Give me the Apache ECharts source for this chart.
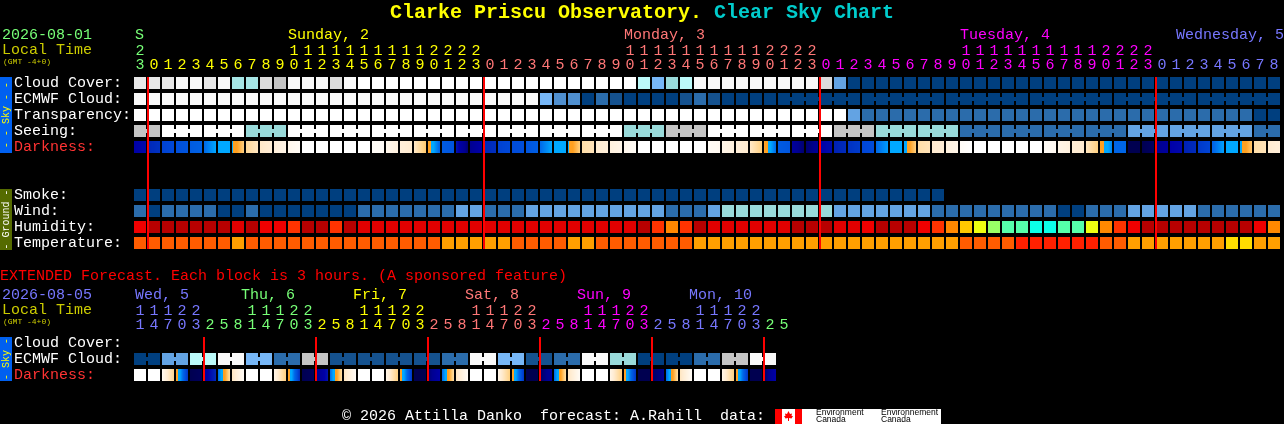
<!DOCTYPE html>
<html><head><meta charset="utf-8">
<style>html,body{margin:0;padding:0;background:#000;overflow:hidden}#c{width:1284px;height:424px}</style>
<script src="https://cdn.jsdelivr.net/npm/echarts@6/dist/echarts.min.js"></script>
</head><body><div id="c"></div>
<script>
// ---------- data ----------
const rowNames = ['Cloud Cover:','ECMWF Cloud:','Transparency:','Seeing:','Darkness:','','','Smoke:','Wind:','Humidity:','Temperature:'];
const extRowNames = ['Cloud Cover:','ECMWF Cloud:','Darkness:'];
const hours = [23,
 0,1,2,3,4,5,6,7,8,9,10,11,12,13,14,15,16,17,18,19,20,21,22,23,
 0,1,2,3,4,5,6,7,8,9,10,11,12,13,14,15,16,17,18,19,20,21,22,23,
 0,1,2,3,4,5,6,7,8,9,10,11,12,13,14,15,16,17,18,19,20,21,22,23,
 0,1,2,3,4,5,6,7,8];
const extHours = [11,14,17,20,23,
 2,5,8,11,14,17,20,23, 2,5,8,11,14,17,20,23, 2,5,8,11,14,17,20,23,
 2,5,8,11,14,17,20,23, 2,5,8,11,14,17,20,23, 2,5];
const dayStarts = [0,1,25,49,73];
const extDayStarts = [0,5,13,21,29,37,45];
const dayTitles = [[0,'S'],[11,'Sunday, 2'],[35,'Monday, 3'],[59,'Tuesday, 4'],[81,'Wednesday, 5']];
const extDayTitles = [[0,'Wed, 5'],[8,'Thu, 6'],[16,'Fri, 7'],[24,'Sat, 8'],[32,'Sun, 9'],[40,'Mon, 10']];

const cloudCover = [2,2,2,1,1,2,1,6,6,3,4,1,1,1,3,1,0,0,0,0,0,0,0,0,0,0,0,0,0,0,0,0,0,0,0,0,5,8,7,5,1,1,1,1,1,1,1,1,1,3,9,
 13,13,13,13,13,13,13,13,13,13,13,13,13,13,13,13,13,13,13,13,13,13,13,13,13,13,13,13,13,13,13];
const ecmwfCloud = [1,1,1,1,1,1,1,1,1,1,1,1,1,1,1,1,1,1,1,1,1,1,1,1,1,1,1,1,1,8,10,10,13,11,12,13,13,13,13,12,11,12,
 13,13,13,13,13,13,13,13,13,13,13,13,13,13,13,13,13,13,13,13,13,13,13,13,13,13,13,13,13,13,13,13,13,13,13,13,13,13,13,13];
const transparency = [0,0,0,0,0,0,0,0,0,0,0,0,0,0,0,0,0,0,0,0,0,0,0,0,0,0,0,0,0,0,0,0,0,0,0,0,0,0,0,0,0,0,0,0,0,0,0,0,0,0,0,9,
 11,11,11,11,11,11,11,11,11,11,11,11,11,11,11,11,11,11,11,11,11,11,11,11,11,11,11,11,13,13];
const seeing = [4,4,0,0,0,0,0,0,7,7,7,0,0,0,0,0,0,0,0,0,0,0,0,0,0,0,0,0,0,0,0,0,0,0,0,7,7,7,4,4,4,0,0,0,0,0,0,0,0,0,4,4,4,
 7,7,7,7,7,7,11,11,11,11,11,11,11,11,11,11,11,11,9,9,9,9,9,9,9,9,9,11,11];
const smoke = [13,13,13,13,13,13,13,13,13,13,13,13,13,13,13,13,13,13,13,13,13,13,13,13,13,13,13,13,13,13,13,13,13,13,13,13,13,13,13,13,13,13,13,13,13,13,13,13,13,13,13,13,13,13,13,13,13,13];
const wind = [11,13,11,11,11,11,13,13,11,13,13,13,13,13,13,13,11,11,11,11,11,11,11,9,9,11,11,11,9,9,9,9,9,9,9,9,9,9,11,11,11,9,
 7,7,7,7,7,7,7,7,9,9,9,9,9,9,9,11,11,11,11,11,11,11,11,11,13,13,11,11,11,9,9,9,9,9,11,11,11,11,11,11];
const humidity = [2,0,0,0,0,0,0,1,0,2,2,3,0,0,3,0,1,1,1,1,1,1,1,1,1,1,1,1,1,1,1,1,1,1,1,1,0,3,4,3,0,1,1,1,1,1,1,0,0,0,1,1,
 2,0,0,0,2,3,4,5,6,7,8,8,9,9,8,8,6,4,3,2,0,0,0,0,0,0,0,0,2,4];
const temperature = [1,1,1,1,1,1,1,2,1,1,1,1,1,1,1,1,1,1,1,1,1,1,2,2,2,2,2,1,1,1,1,2,2,1,1,1,1,1,1,1,2,2,2,2,2,2,2,2,2,2,2,2,
 2,2,2,2,2,2,2,1,1,1,1,0,0,0,0,0,0,1,1,2,2,2,2,2,2,2,3,3,2,2];
const darkStart = [2,3,3.8,4.2,4.6,5,6,6.3,8.3,8.9,9.2,9.6,10,10,10,10,10,9.8,9.6,9.2,8.9,7,4.6,2.5,1,3,3.8,4.1,4.4,5,6,6.3,8.5,9,9.3,9.6,
 10,10,10,10,10,9.8,9.5,9.2,8.9,7.2,4.6,1.5,0.5,2,2.8,3.3,3.9,5,6,6.1,8.5,9,9.3,9.8,10,10,10,10,10,9.8,9.5,9.1,8.8,7.1,4.9,0,0,1,2,2.8,3.5,4.8,6,6.2,8.5,9];
const darkEnd = [2.2,3.3,4,4.4,4.8,6,6,8,8.8,9.1,9.5,9.8,10,10,10,10,10,9.8,9.3,9,7.8,4.8,4.4,0.5,2,3.2,4,4.2,4.7,6,6,8,8.7,9.2,9.5,9.8,
 10,10,10,10,10,9.7,9.3,9,8,5,4.4,0.5,1.2,2.3,3.1,3.6,4.1,5.8,6,8,8.7,9.1,9.5,10,10,10,10,10,10,9.7,9.3,9,8,5.4,4.9,0,0.3,1.5,2.2,3.1,3.9,5.9,6,7.8,8.7,9.2];

const extEcmwf = [13,13,9,9,5,5,1,1,8,8,11,11,4,4,12,12,12,12,12,12,12,12,11,11,1,1,8,8,12,12,11,11,1,1,7,7,13,13,13,13,11,11,4,4,1,1];
const extDarkStart = [10,10,9.7,7.2,0,1.5,5,8.8,10,10,9.5,7.2,0,0.8,5,8.8,10,10,9.5,7.2,0,0.5,5,8.8,10,10,9.5,7.2,0,0.3,5,8.8,10,10,9.5,7.2,0,0.3,5,8.8,10,10,9.5,7.2,0,0.3];
const extDarkEnd = [10,10,8.2,3.4,0.2,3,8.5,9.8,10,10,8,3.2,0.2,2.5,8.5,9.8,10,10,8,3.4,0,2,8.5,9.8,10,10,8,3.4,0,1.5,8.5,9.8,10,10,8,3.4,0,1,8.5,9.8,10,10,8,3.4,0,2];

// ---------- styles ----------
const skyColors = ['#FFFFFF','#F9F9F9','#E8E8E8','#DCDCDC','#C4C4C4','#BBFAFA','#A6E6E6','#99DADA','#77B7F7','#63A3E3','#4F8FCF','#2B6CAB','#15528F','#003F7F'];
const humColors = ['#B80000','#E20000','#F00000','#FF3300','#FF8800','#FFC800','#EEFF11','#99FF66','#55FFAA','#0CFFE8'];
const tmpColors = ['#FF2000','#FF5C00','#FF9F00','#FFDD00'];
const dayColors = ['#77FF77','#FFFF00','#FF7777','#FF00FF','#7777FF'];
const extDayColors = ['#7777FF','#77FF77','#FFFF00','#FF7777','#FF00FF','#7777FF','#77FF77'];
const darkScale = [[0,[0,0,80]],[1,[0,0,144]],[2,[0,0,168]],[3,[0,40,184]],[4,[0,72,216]],[5,[0,104,232]],[6,[0,168,255]]];
const dayScale = [[6.5,[255,160,32]],[7,[255,160,32]],[8,[255,208,128]],[9,[255,235,208]],[10,[255,255,255]]];
const MONO = '"Liberation Mono","DejaVu Sans Mono",monospace';

function darkColor(v){
  const s = v < 6.5 ? darkScale : dayScale;
  if (v <= s[0][0]) return 'rgb('+s[0][1]+')';
  for (let i=1;i<s.length;i++){
    if (v <= s[i][0]){
      const t=(v-s[i-1][0])/(s[i][0]-s[i-1][0]);
      return 'rgb('+s[i][1].map((c,k)=>Math.round(s[i-1][1][k]+(c-s[i-1][1][k])*t))+')';
    }
  }
  return 'rgb('+s[s.length-1][1]+')';
}
function darkGradient(a,b){
  const stops=[]; const n=12;
  for(let i=0;i<n;i++){
    const c=darkColor(a+(b-a)*(i+0.5)/n);
    stops.push({offset:i/n,color:c},{offset:(i+1)/n,color:c});
  }
  return new echarts.graphic.LinearGradient(0,0,1,0,stops);
}
function dayColor(c,starts,colors){ let k=0; starts.forEach((s,i)=>{ if(c>=s)k=i; }); return colors[k]; }

// rows: [row index, values, palette, joins next cell?]
const upperRows = [
 [0,cloudCover,skyColors,()=>false],
 [1,ecmwfCloud,skyColors,c=>c>=46&&(c-46)%6!==5],
 [2,transparency,skyColors,()=>false],
 [3,seeing,skyColors,c=>(c+1)%3!==2],
 [7,smoke,skyColors,()=>false],
 [8,wind,skyColors,()=>false],
 [9,humidity,humColors,()=>false],
 [10,temperature,tmpColors,()=>false]];
const lowerRows = [[1,extEcmwf,skyColors,c=>c%2===0]];

function cellSeries(rows,xi,yi){
  const data=[],meta=[];
  rows.forEach(r=>r[1].forEach((v,c)=>{data.push([c,r[0],v]);meta.push({color:r[2][v],join:r[3](c)&&c<r[1].length-1});}));
  return {type:'custom',xAxisIndex:xi,yAxisIndex:yi,data,encode:{x:0,y:1},silent:true,
    renderItem(p,api){
      const pt=api.coord([api.value(0),api.value(1)]),sz=api.size([1,1]),m=meta[p.dataIndex];
      const w=sz[0]-2,h=sz[1]-4,x=pt[0]-w/2,y=pt[1]-h/2;
      const children=[{type:'rect',shape:{x,y,width:w,height:h},style:{fill:m.color}}];
      if(m.join)children.push({type:'rect',shape:{x:x+w,y:pt[1]-2,width:2,height:4},style:{fill:m.color}});
      return {type:'group',children};
    }};
}
function darkSeries(row,a,b,xi,yi){
  return {type:'custom',xAxisIndex:xi,yAxisIndex:yi,data:a.map((v,c)=>[c,row,v,b[c]]),encode:{x:0,y:1},silent:true,
    renderItem(p,api){
      const pt=api.coord([api.value(0),api.value(1)]),sz=api.size([1,1]);
      const w=sz[0]-2,h=sz[1]-4;
      return {type:'rect',shape:{x:pt[0]-w/2,y:pt[1]-h/2,width:w,height:h},style:{fill:darkGradient(api.value(2),api.value(3))}};
    }};
}
function midnightSeries(cols,xi,yi){
  return {type:'custom',xAxisIndex:xi,yAxisIndex:yi,z:5,data:cols.map(c=>[c,0]),encode:{x:0,y:1},silent:true,
    renderItem(p,api){
      const pt=api.coord([api.value(0),0]),sz=api.size([1,1]),cs=p.coordSys;
      return {type:'rect',shape:{x:pt[0]-sz[0]/2,y:cs.y+2,width:2,height:cs.height-4},style:{fill:'#FF0000'}};
    }};
}
function dayTitleSeries(list,starts,colors,dx,xi,yi){
  return {type:'custom',xAxisIndex:xi,yAxisIndex:yi,data:list.map(d=>[d[0],0]),encode:{x:0,y:1},silent:true,
    renderItem(p,api){
      const d=list[p.dataIndex],pt=api.coord([d[0],0]),cs=p.coordSys;
      let x=pt[0]+dx;
      x=Math.max(x,cs.x+2); x=Math.min(x,1284-d[1].length*9);
      return {type:'text',style:{x,y:cs.y-40,text:d[1],fill:dayColor(d[0],starts,colors),font:'15px '+MONO,textVerticalAlign:'middle',verticalAlign:'middle'}};
    }};
}
function hourAxes(h,starts,colors,gi){
  const item=(v,c)=>({value:v,textStyle:{color:dayColor(c,starts,colors)}});
  const base={type:'category',gridIndex:gi,position:'top',axisLine:{show:false},axisTick:{show:false},splitLine:{show:false}};
  const lab={interval:0,fontFamily:MONO,fontSize:15,margin:2,hideOverlap:false};
  return [
    Object.assign({},base,{data:h.map((v,c)=>item(String(v%10),c)),axisLabel:lab}),
    Object.assign({},base,{offset:14,data:h.map((v,c)=>item(v>=10?String(Math.floor(v/10)):' ',c)),axisLabel:lab})
  ];
}
function rowAxis(names,gi){
  return {type:'category',gridIndex:gi,inverse:true,axisLine:{show:false},axisTick:{show:false},splitLine:{show:false},
    data:names.map(n=>({value:n,textStyle:{color:n==='Darkness:'?'#FF3333':'#FFFFFF',align:'left',padding:[0,0,4,0]}})),
    axisLabel:{interval:0,align:'left',margin:119,fontFamily:MONO,fontSize:15,padding:[0,0,4,0]}};
}
const txt=(x,y,text,fill,font)=>({type:'text',silent:true,x,y,style:{text,fill,font:font||('15px '+MONO),textVerticalAlign:'middle',verticalAlign:'middle'}});
const vtxt=(x,y,text,fill)=>({type:'text',silent:true,x,y,rotation:Math.PI/2,style:{text,fill,font:'10px '+MONO,align:'center',textAlign:'center',textVerticalAlign:'middle',verticalAlign:'middle'}});
const box=(x,y,w,h,fill)=>({type:'rect',silent:true,shape:{x,y,width:w,height:h},style:{fill}});

const chart=echarts.init(document.getElementById('c'),null,{renderer:'canvas',devicePixelRatio:1});
chart.setOption({
  backgroundColor:'#000',animation:false,
  title:{left:390,top:3,padding:0,text:'{a|Clarke Priscu Observatory. }{b|Clear Sky Chart}',
    textStyle:{rich:{a:{color:'#FFFF00',fontFamily:MONO,fontWeight:'bold',fontSize:20},b:{color:'#00CCCC',fontFamily:MONO,fontWeight:'bold',fontSize:20}}}},
  grid:[{left:133,top:75,width:1148,height:176,outerBoundsMode:'none',containLabel:false},{left:133,top:335,width:658,height:48,outerBoundsMode:'none',containLabel:false}],
  xAxis:[...hourAxes(hours,dayStarts,dayColors,0),...hourAxes(extHours,extDayStarts,extDayColors,1)],
  yAxis:[rowAxis(rowNames,0),rowAxis(extRowNames,1)],
  series:[
    cellSeries(upperRows,0,0),
    darkSeries(4,darkStart,darkEnd,0,0),
    midnightSeries(dayStarts.slice(1),0,0),
    dayTitleSeries(dayTitles,dayStarts,dayColors,-6,0,0),
    cellSeries(lowerRows,2,1),
    darkSeries(2,extDarkStart,extDarkEnd,2,1),
    midnightSeries(extDayStarts.slice(1),2,1),
    dayTitleSeries(extDayTitles,extDayStarts,extDayColors,-11,2,1)
  ],
  graphic:[
    txt(2,35,'2026-08-01','#77FF77'),txt(2,50,'Local Time','#CCCC00'),txt(3,62,'(GMT -4+0)','#CCCC00','8px '+MONO),
    box(0,77,12,76,'#0060F0'),vtxt(6,115,'- - Sky - -','#FFFF00'),
    box(0,189,12,61,'#556B00'),vtxt(6,219.5,'- Ground -','#FFFFFF'),
    txt(0,276,'EXTENDED Forecast. Each block is 3 hours. (A sponsored feature)','#FF0000'),
    txt(2,295,'2026-08-05','#7777FF'),txt(2,310,'Local Time','#CCCC00'),txt(3,322,'(GMT -4+0)','#CCCC00','8px '+MONO),
    box(0,337,12,44,'#0060F0'),vtxt(6,359,'- Sky -','#FFFF00'),
    txt(342,416,'\u00A9 2026 Attilla Danko  forecast: A.Rahill  data:','#FFFFFF'),
    box(775,409,166,15,'#FFFFFF'),box(775,409,7,15,'#FF0000'),box(795,409,7,15,'#FF0000'),
    {type:'polygon',silent:true,shape:{points:[[788.5,411],[790,414],[792,413.5],[791.5,416],[793,416],[791.5,418.5],[789,418],[789,421],[788,421],[788,418],[785.5,418.5],[784,416],[785.5,416],[785,413.5],[787,414]]},style:{fill:'#FF0000'}},
    txt(816,413,'Environment','#000','8.5px "Liberation Sans"'),txt(816,420,'Canada','#000','8.5px "Liberation Sans"'),
    txt(881,413,'Environnement','#000','8.5px "Liberation Sans"'),txt(881,420,'Canada','#000','8.5px "Liberation Sans"')
  ]
});
</script></body></html>
